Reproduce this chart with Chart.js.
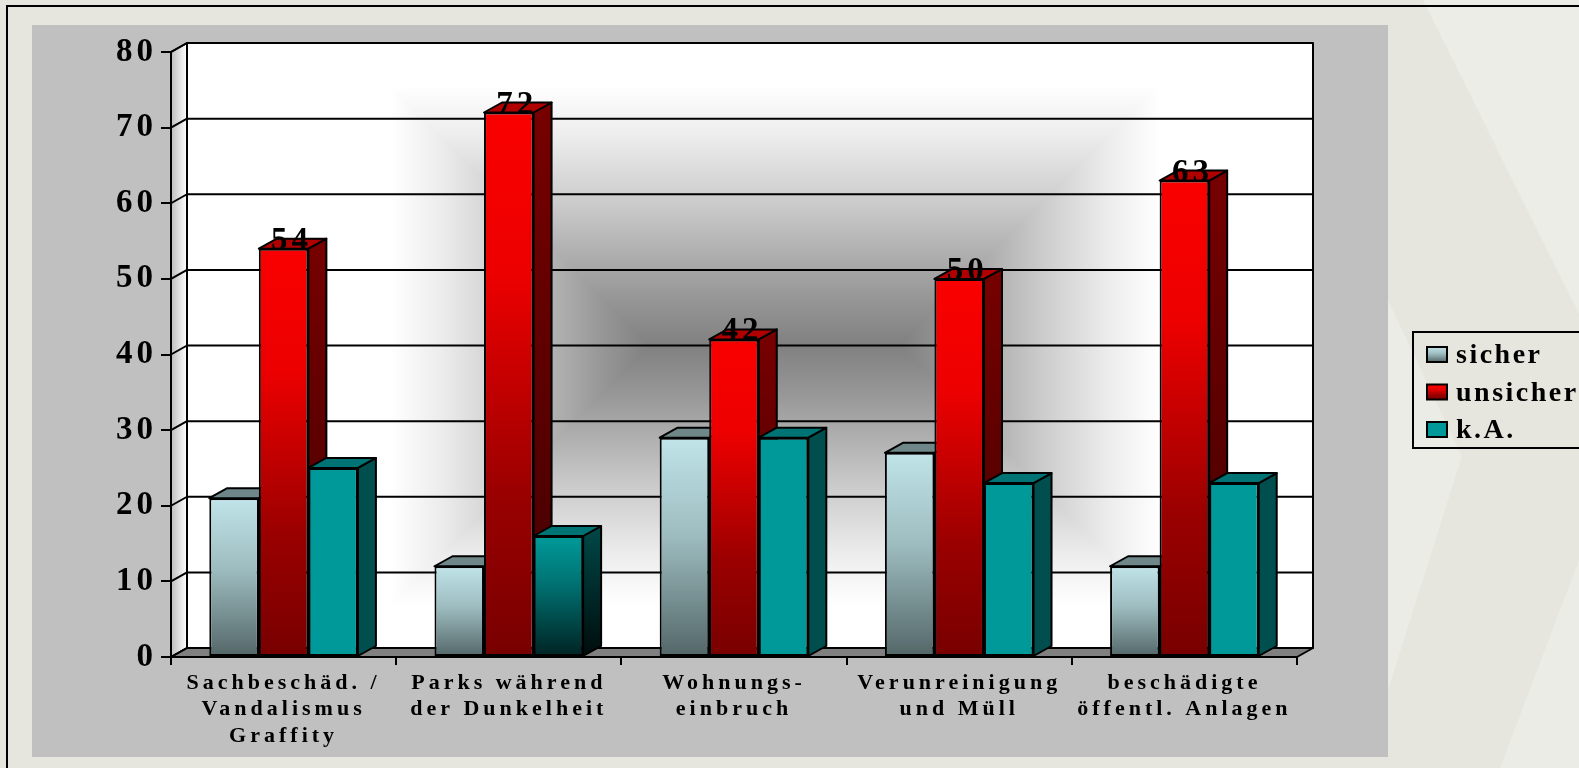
<!DOCTYPE html>
<html>
<head>
<meta charset="utf-8">
<title>Sicherheitsgefühl</title>
<script src="https://cdn.jsdelivr.net/npm/chart.js@4.4.1/dist/chart.umd.min.js"></script>
<style>
  html, body { margin: 0; padding: 0; background: #e7e7df; overflow: hidden; }
  #wrap { width: 1579px; height: 768px; }
</style>
</head>
<body>
<div id="wrap"><canvas id="safetyChart" width="1579" height="768"></canvas></div>
<script>
// data
const categories = [
    ['Sachbeschäd. /', 'Vandalismus', 'Graffity'],
    ['Parks während', 'der Dunkelheit'],
    ['Wohnungs-', 'einbruch'],
    ['Verunreinigung', 'und Müll'],
    ['beschädigte', 'öffentl. Anlagen']
];
const seriesNames = ['sicher', 'unsicher', 'k.A.'];
const sicherValues = [21, 12, 29, 27, 12];
const unsicherValues = [54, 72, 42, 50, 63];
const kaValues = [25, 16, 29, 23, 23];
const yTicks = [0, 10, 20, 30, 40, 50, 60, 70, 80];

const FONT = '"Liberation Serif", "Times New Roman", serif';
const SPACING = '4px';
const WALL_DX = 16, WALL_DY = -9;   // depth of the walls / floor
const BAR_DX = 18, BAR_DY = -10;    // depth of the columns

const sicherStops = [[0, '#c0e4e9'], [0.45, '#9dbcbf'], [1, '#536668']];
const unsicherStops = [[0, '#fa0000'], [0.3, '#ec0000'], [0.7, '#9a0000'], [1, '#780000']];
const kaDarkStops = [[0, '#009999'], [0.35, '#007777'], [1, '#002222']];
const wallStops = [[0, '#808080'], [0.2, '#999999'], [0.55, '#cccccc'], [0.8, '#ececec'], [1, '#ffffff']];

function barGradient(context, stops) {
    const chart = context.chart;
    const ys = chart.scales.y;
    if (!chart.chartArea || !ys) return stops[0][1];
    const top = ys.getPixelForValue(context.raw);
    const bottom = ys.getPixelForValue(0);
    const g = chart.ctx.createLinearGradient(0, top, 0, bottom);
    stops.forEach(s => g.addColorStop(s[0], s[1]));
    return g;
}

function fillPoly(ctx, pts, fill, stroke) {
    ctx.beginPath();
    ctx.moveTo(pts[0][0], pts[0][1]);
    for (let i = 1; i < pts.length; i++) ctx.lineTo(pts[i][0], pts[i][1]);
    ctx.closePath();
    if (fill) { ctx.fillStyle = fill; ctx.fill(); }
    if (stroke) { ctx.strokeStyle = '#000'; ctx.lineWidth = 2; ctx.lineJoin = 'round'; ctx.stroke(); }
}

const scene3d = {
    id: 'scene3d',
    beforeUpdate(chart) {
        chart.ctx.letterSpacing = SPACING;
    },
    beforeDraw(chart) {
        const ctx = chart.ctx;
        const W = chart.width, H = chart.height;
        ctx.letterSpacing = SPACING;
        ctx.save();
        // slide background
        ctx.fillStyle = '#e6e6de';
        ctx.fillRect(0, 0, W, H);
        fillPoly(ctx, [[1423, 0], [W, 0], [W, 314]], '#edede8');
        fillPoly(ctx, [[1388, 300], [1462, 456], [1388, 690]], '#ecece7');
        fillPoly(ctx, [[1500, 768], [W, 560], [W, 768]], '#ecece7');
        ctx.strokeStyle = '#000';
        ctx.lineWidth = 2;
        ctx.strokeRect(7, 6, W, H);
        // chart panel
        ctx.fillStyle = '#c0c0c0';
        ctx.fillRect(32, 25, 1356, 732);

        const a = chart.chartArea;
        const ys = chart.scales.y;
        const L = a.left, R = a.right, T = a.top, B = a.bottom;
        const bl = L + WALL_DX, br = R + WALL_DX, bt = T + WALL_DY, bb = B + WALL_DY;
        const cx = (bl + br) / 2, cy = (bt + bb) / 2;
        const grad = (x0, y0, x1, y1) => {
            const g = ctx.createLinearGradient(x0, y0, x1, y1);
            wallStops.forEach(s => g.addColorStop(s[0], s[1]));
            return g;
        };
        // back wall: dark core along a short horizontal segment, fading out to white
        const F = 260;
        const sx0 = cx - 100, sx1 = cx + 150, sm = (sx0 + sx1) / 2;
        ctx.save();
        ctx.beginPath();
        ctx.rect(bl, bt, br - bl, bb - bt);
        ctx.clip();
        ctx.fillStyle = grad(sx0, 0, sx0 - F, 0);
        ctx.fillRect(bl, bt, sm - bl, bb - bt);
        ctx.fillStyle = grad(sx1, 0, sx1 + F, 0);
        ctx.fillRect(sm, bt, br - sm, bb - bt);
        const h1 = cy - bt, h2 = bb - cy;
        fillPoly(ctx, [[sx0, cy], [sx1, cy], [sx1 + h1, bt], [sx0 - h1, bt]], grad(0, cy, 0, cy - F));
        fillPoly(ctx, [[sx0, cy], [sx1, cy], [sx1 + h2, bb], [sx0 - h2, bb]], grad(0, cy, 0, cy + F));
        ctx.restore();
        // side wall
        const sg = ctx.createLinearGradient(L, 0, bl, 0);
        sg.addColorStop(0, '#bdbdbd');
        sg.addColorStop(1, '#ffffff');
        fillPoly(ctx, [[L, T], [bl, bt], [bl, bb], [L, B]], sg, true);
        // floor
        fillPoly(ctx, [[L, B], [R, B], [br, bb], [bl, bb]], '#808080', true);
        // grid lines on the walls
        ctx.strokeStyle = '#000';
        ctx.lineWidth = 2;
        ys.ticks.forEach(t => {
            const y = ys.getPixelForValue(t.value);
            ctx.beginPath();
            ctx.moveTo(L, y);
            ctx.lineTo(bl, y + WALL_DY);
            ctx.lineTo(br, y + WALL_DY);
            ctx.stroke();
        });
        ctx.strokeRect(bl, bt, br - bl, bb - bt);
        ctx.restore();
    },
    beforeDatasetsDraw(chart) {
        const ctx = chart.ctx;
        ctx.save();
        const n = chart.data.labels.length;
        for (let i = 0; i < n; i++) {
            chart.data.datasets.forEach((ds, di) => {
                const bar = chart.getDatasetMeta(di).data[i];
                if (!bar) return;
                const p = bar.getProps(['x', 'y', 'base', 'width'], true);
                const l = p.x - p.width / 2, r = p.x + p.width / 2;
                const sc = typeof ds.side === 'function' ? ds.side(i) : ds.side;
                const sg = ctx.createLinearGradient(0, p.y, 0, p.base);
                sg.addColorStop(0, sc[0]);
                sg.addColorStop(1, sc[1]);
                fillPoly(ctx, [[r, p.y], [r + BAR_DX, p.y + BAR_DY], [r + BAR_DX, p.base + BAR_DY], [r, p.base]], sg, true);
                fillPoly(ctx, [[l, p.y], [l + BAR_DX, p.y + BAR_DY], [r + BAR_DX, p.y + BAR_DY], [r, p.y]], ds.top, true);
            });
        }
        ctx.restore();
    },
    afterDatasetsDraw(chart) {
        const ctx = chart.ctx;
        ctx.save();
        ctx.font = 'bold 33px ' + FONT;
        ctx.letterSpacing = SPACING;
        ctx.fillStyle = '#000';
        ctx.textAlign = 'center';
        ctx.textBaseline = 'alphabetic';
        chart.data.datasets.forEach((ds, di) => {
            if (!ds.showValues) return;
            chart.getDatasetMeta(di).data.forEach((bar, i) => {
                const p = bar.getProps(['x', 'y'], true);
                ctx.fillText(String(ds.data[i]), p.x + 8, p.y + 1);
            });
        });
        ctx.restore();
    },
    afterDraw(chart) {
        const ctx = chart.ctx;
        const lx = 1413, ly = 332;
        ctx.save();
        ctx.strokeStyle = '#000';
        ctx.lineWidth = 2;
        ctx.strokeRect(lx, ly, 300, 116);
        ctx.font = 'bold 28px ' + FONT;
        ctx.letterSpacing = '2.5px';
        ctx.textBaseline = 'alphabetic';
        const swatches = [sicherStops, unsicherStops, [[0, '#009999'], [1, '#009999']]];
        chart.data.datasets.forEach((ds, di) => {
            const base = ly + 31 + di * 37.5;
            const sy = base - 16;
            const g = ctx.createLinearGradient(0, sy, 0, sy + 15);
            swatches[di].forEach(s => g.addColorStop(s[0], s[1]));
            ctx.fillStyle = g;
            ctx.fillRect(lx + 14, sy, 20, 15);
            ctx.strokeRect(lx + 14, sy, 20, 15);
            ctx.fillStyle = '#000';
            ctx.fillText(ds.label, lx + 43, base);
        });
        ctx.restore();
    }
};

const ctx = document.getElementById('safetyChart').getContext('2d');
const safetyChart = new Chart(ctx, {
    type: 'bar',
    data: {
        labels: categories,
        datasets: [{
            label: seriesNames[0],
            data: sicherValues,
            backgroundColor: c => barGradient(c, sicherStops),
            side: ['#52686a', '#3e4e50'],
            top: '#6f8789'
        }, {
            label: seriesNames[1],
            data: unsicherValues,
            backgroundColor: c => barGradient(c, unsicherStops),
            side: ['#760000', '#420000'],
            top: '#b00000',
            showValues: true
        }, {
            label: seriesNames[2],
            data: kaValues,
            backgroundColor: c => c.dataIndex === 1 ? barGradient(c, kaDarkStops) : '#009999',
            side: i => i === 1 ? ['#004444', '#000c0c'] : ['#004e4e', '#004e4e'],
            top: '#007474'
        }]
    },
    options: {
        responsive: false,
        animation: false,
        events: [],
        layout: {
            padding: { left: 0, top: 52, right: 282, bottom: 11 }
        },
        datasets: {
            bar: {
                categoryPercentage: 0.66,
                barPercentage: 1,
                borderWidth: 2,
                borderColor: '#000',
                borderSkipped: false
            }
        },
        plugins: {
            legend: { display: false },
            tooltip: { enabled: false }
        },
        scales: {
            x: {
                grid: { drawOnChartArea: false, offset: true, tickLength: 8, color: '#000', lineWidth: 2 },
                border: { color: '#000', width: 2 },
                ticks: {
                    color: '#000',
                    padding: 5,
                    maxRotation: 0,
                    autoSkip: false,
                    font: { family: FONT, size: 22, weight: 'bold', lineHeight: 1.2 }
                },
                afterFit: function (scale) { scale.height = 100; }
            },
            y: {
                min: yTicks[0],
                max: yTicks[yTicks.length - 1],
                grid: { drawOnChartArea: false, tickLength: 10, color: '#000', lineWidth: 2 },
                border: { color: '#000', width: 2 },
                ticks: {
                    stepSize: yTicks[1] - yTicks[0],
                    color: '#000',
                    padding: 4,
                    font: { family: FONT, size: 33, weight: 'bold' }
                },
                afterFit: function (scale) { scale.width = 171; }
            }
        }
    },
    plugins: [scene3d]
});
</script>
</body>
</html>
